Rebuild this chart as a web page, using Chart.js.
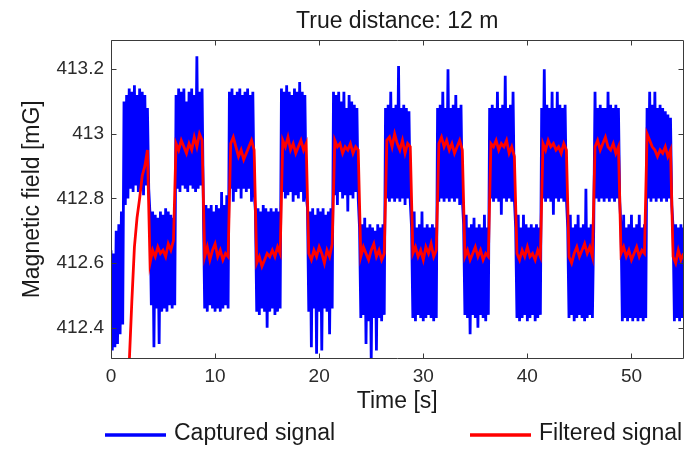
<!DOCTYPE html>
<html>
<head>
<meta charset="utf-8">
<title>True distance: 12 m</title>
<script src="https://cdn.jsdelivr.net/npm/chart.js@4.4.1/dist/chart.umd.min.js"></script>
<style>
  html, body { margin: 0; padding: 0; background: #fff; }
  #wrap { width: 700px; height: 449px; }
</style>
</head>
<body>
<div id="wrap"><canvas id="fieldChart" width="700" height="449"></canvas></div>
<script>
// Magnetometer trace: raw capture (blue) and low-pass output (red)

// --- data ---

// raw samples, one every 0.125 s from t = 0 (one row per high/low half-cycle)
const capturedStep = 0.125;
const captured = [
  412.64, 412.33, 412.63, 412.34, 412.70, 412.35, 412.72, 412.38, 412.76, 412.41,
  413.10, 412.78, 413.12, 412.80, 413.14, 412.83, 413.13, 412.82, 413.15, 412.84, 413.12, 412.82, 413.14, 412.83, 413.13, 412.81, 413.12, 412.84, 413.08, 412.83,
  412.75, 412.47, 412.76, 412.34, 412.75, 412.46, 412.74, 412.35, 412.76, 412.45, 412.75, 412.46, 412.77, 412.45, 412.76, 412.47, 412.75, 412.46, 412.74, 412.47,
  413.12, 412.83, 413.14, 412.82, 413.13, 412.84, 413.14, 412.83, 413.10, 412.82, 413.13, 412.84, 413.14, 412.83, 413.12, 412.82, 413.24, 412.83, 413.13, 412.84, 413.14,
  412.77, 412.46, 412.78, 412.45, 412.77, 412.47, 412.78, 412.46, 412.76, 412.45, 412.78, 412.46, 412.77, 412.45, 412.82, 412.46, 412.78, 412.47, 412.81, 412.46,
  413.13, 412.83, 413.14, 412.79, 413.12, 412.82, 413.13, 412.83, 413.14, 412.80, 413.12, 412.83, 413.13, 412.82, 413.14, 412.83, 413.12, 412.79, 413.13, 412.82,
  412.76, 412.45, 412.77, 412.44, 412.76, 412.46, 412.78, 412.45, 412.77, 412.40, 412.76, 412.45, 412.77, 412.46, 412.76, 412.44, 412.77, 412.45, 412.76, 412.46,
  413.14, 412.82, 413.13, 412.80, 413.15, 412.81, 413.13, 412.82, 413.12, 412.79, 413.14, 412.81, 413.13, 412.80, 413.16, 412.82, 413.13, 412.79, 413.12, 412.81,
  412.77, 412.45, 412.76, 412.34, 412.77, 412.46, 412.75, 412.32, 412.77, 412.45, 412.76, 412.33, 412.77, 412.46, 412.75, 412.45, 412.76, 412.38, 412.77, 412.46,
  413.13, 412.81, 413.12, 412.78, 413.13, 412.82, 413.10, 412.80, 413.13, 412.81, 413.08, 412.76, 413.12, 412.81, 413.10, 412.80, 413.09, 412.82, 413.08, 412.80,
  412.71, 412.43, 412.72, 412.44, 412.74, 412.35, 412.71, 412.42, 412.72, 412.30, 412.71, 412.43, 412.70, 412.33, 412.72, 412.43, 412.71, 412.42, 412.72, 412.44,
  413.08, 412.80, 413.09, 412.79, 413.13, 412.80, 413.08, 412.79, 413.09, 412.80, 413.21, 412.79, 413.08, 412.80, 413.09, 412.78, 413.08, 412.80, 413.07, 412.79,
  412.71, 412.43, 412.76, 412.42, 412.71, 412.44, 412.72, 412.43, 412.76, 412.42, 412.71, 412.43, 412.72, 412.44, 412.71, 412.43, 412.72, 412.42, 412.71, 412.43,
  413.08, 412.79, 413.09, 412.80, 413.13, 412.79, 413.08, 412.80, 413.20, 412.79, 413.08, 412.80, 413.09, 412.79, 413.12, 412.80, 413.08, 412.78, 413.09, 412.80,
  412.72, 412.44, 412.75, 412.43, 412.71, 412.38, 412.72, 412.44, 412.74, 412.43, 412.71, 412.40, 412.72, 412.44, 412.71, 412.43, 412.75, 412.42, 412.71, 412.44,
  413.08, 412.80, 413.09, 412.79, 413.08, 412.80, 413.13, 412.79, 413.08, 412.75, 413.09, 412.80, 413.18, 412.79, 413.08, 412.80, 413.09, 412.79, 413.13, 412.80,
  412.71, 412.43, 412.75, 412.42, 412.71, 412.43, 412.75, 412.44, 412.72, 412.42, 412.71, 412.43, 412.72, 412.44, 412.71, 412.42, 412.72, 412.43, 412.71, 412.44,
  413.08, 412.80, 413.20, 412.79, 413.09, 412.80, 413.08, 412.79, 413.13, 412.75, 413.08, 412.80, 413.13, 412.79, 413.09, 412.80, 413.08, 412.79, 413.09, 412.80,
  412.71, 412.43, 412.75, 412.44, 412.71, 412.42, 412.72, 412.43, 412.75, 412.44, 412.71, 412.43, 412.72, 412.42, 412.83, 412.43, 412.71, 412.44, 412.72, 412.43, 412.71,
  413.13, 412.80, 413.08, 412.79, 413.09, 412.80, 413.08, 412.79, 413.08, 412.80, 413.13, 412.79, 413.09, 412.80, 413.08, 412.79, 413.09, 412.80, 413.08, 412.79,
  412.71, 412.42, 412.75, 412.43, 412.71, 412.42, 412.72, 412.43, 412.75, 412.42, 412.71, 412.43, 412.72, 412.42, 412.75, 412.43, 412.71, 412.42, 412.72, 412.43,
  413.08, 412.80, 413.13, 412.79, 413.09, 412.80, 413.13, 412.79, 413.08, 412.80, 413.09, 412.79, 413.08, 412.80, 413.07, 412.79, 413.06, 412.80, 413.05, 412.78,
  412.71, 412.42, 412.72, 412.43, 412.71, 412.42, 412.72, 412.43, 412.71
];

// filter output, one value every 0.25 s once it starts at t = 1.75 s
const filteredStart = 1.75;
const filteredStep = 0.25;
const filtered = [
  412.29, 412.48, 412.65, 412.74, 412.80, 412.87, 412.90, 412.95,
  412.60, 412.64, 412.62, 412.65, 412.63, 412.64, 412.62, 412.66, 412.64, 412.67,
  412.97, 412.95, 412.98, 412.96, 412.94, 412.97, 412.95, 412.99, 412.96, 413.00, 412.98,
  412.62, 412.65, 412.61, 412.64, 412.66, 412.62, 412.64, 412.61, 412.63, 412.62,
  412.97, 412.99, 412.96, 412.93, 412.95, 412.92, 412.94, 412.96, 412.98, 412.95,
  412.60, 412.62, 412.59, 412.61, 412.63, 412.62, 412.64, 412.62, 412.65, 412.63,
  412.98, 412.96, 412.99, 412.95, 412.97, 412.94, 412.96, 412.98, 412.95, 412.97,
  412.63, 412.61, 412.64, 412.62, 412.65, 412.63, 412.60, 412.64, 412.62, 412.66,
  412.98, 412.96, 412.97, 412.94, 412.96, 412.95, 412.97, 412.94, 412.96, 412.95,
  412.62, 412.65, 412.63, 412.61, 412.64, 412.66, 412.62, 412.64, 412.61, 412.63,
  412.98, 412.99, 412.96, 413.00, 412.97, 412.95, 412.98, 412.94, 412.97, 412.96,
  412.63, 412.65, 412.62, 412.64, 412.61, 412.65, 412.63, 412.66, 412.62, 412.64,
  412.97, 412.99, 412.96, 412.98, 412.95, 412.97, 412.94, 412.96, 412.98, 412.95,
  412.62, 412.64, 412.61, 412.63, 412.65, 412.62, 412.64, 412.61, 412.63, 412.62,
  412.97, 412.96, 412.98, 412.95, 412.97, 412.96, 412.98, 412.94, 412.96, 412.93,
  412.63, 412.61, 412.64, 412.62, 412.65, 412.62, 412.63, 412.61, 412.64, 412.62,
  412.97, 412.95, 412.98, 412.96, 412.97, 412.95, 412.96, 412.94, 412.97, 412.95,
  412.62, 412.60, 412.63, 412.65, 412.62, 412.64, 412.66, 412.63, 412.65, 412.62,
  412.96, 412.98, 412.95, 412.97, 412.99, 412.96, 412.95, 412.97, 412.94, 412.96,
  412.63, 412.65, 412.62, 412.64, 412.61, 412.63, 412.65, 412.62, 412.64, 412.63,
  413.00, 412.98, 412.96, 412.95, 412.93, 412.95, 412.94, 412.96, 412.93, 412.95,
  412.62, 412.60, 412.64, 412.61, 412.63
];

const xTicks = [0, 10, 20, 30, 40, 50];
const yTicks = [412.4, 412.6, 412.8, 413, 413.2];

// --- styling ---

const FONT = "'Liberation Sans', Arial, Helvetica, sans-serif";
const TEXT = '#1a1a1a';
const FRAME = '#3a3a3a';
const TICK_LEN = 5;

Chart.defaults.font.family = FONT;
Chart.defaults.color = TEXT;

// MATLAB-style box: full frame with inward ticks on all four sides
const axesFrame = {
  id: 'axesFrame',
  afterDatasetsDraw(chart) {
    const { ctx, chartArea: a, scales: { x, y } } = chart;
    const L = Math.round(a.left) + 0.5;
    const R = Math.round(a.right) - 0.5;
    const T = Math.round(a.top) + 0.5;
    const B = Math.round(a.bottom) - 0.5;
    ctx.save();
    ctx.strokeStyle = FRAME;
    ctx.lineWidth = 1;
    ctx.beginPath();
    ctx.rect(L, T, R - L, B - T);
    xTicks.forEach(v => {
      const px = Math.round(x.getPixelForValue(v)) + 0.5;
      ctx.moveTo(px, B); ctx.lineTo(px, B - TICK_LEN);
      ctx.moveTo(px, T); ctx.lineTo(px, T + TICK_LEN);
    });
    yTicks.forEach(v => {
      const py = Math.round(y.getPixelForValue(v)) + 0.5;
      ctx.moveTo(L, py); ctx.lineTo(L + TICK_LEN, py);
      ctx.moveTo(R, py); ctx.lineTo(R - TICK_LEN, py);
    });
    ctx.stroke();
    ctx.restore();
  }
};

// legend split across the bottom: one entry under each half of the plot
const splitLegend = {
  id: 'splitLegend',
  afterDraw(chart) {
    const { ctx, chartArea: a } = chart;
    const cy = a.bottom + 75.5;
    const starts = [a.left - 6, a.left + 359];
    ctx.save();
    ctx.font = '23px ' + FONT;
    ctx.textBaseline = 'middle';
    ctx.textAlign = 'left';
    chart.data.datasets.forEach((ds, i) => {
      const x0 = starts[i];
      ctx.strokeStyle = ds.borderColor;
      ctx.lineWidth = 3.5;
      ctx.beginPath();
      ctx.moveTo(x0, cy + 1);
      ctx.lineTo(x0 + 61, cy + 1);
      ctx.stroke();
      ctx.fillStyle = TEXT;
      ctx.fillText(ds.label, x0 + 69, cy);
    });
    ctx.restore();
  }
};

const capturedPoints = captured.map((v, i) => ({ x: i * capturedStep, y: v }));
const filteredPoints = filtered.map((v, i) => ({ x: filteredStart + i * filteredStep, y: v }));

new Chart(document.getElementById('fieldChart'), {
  type: 'line',
  data: {
    datasets: [
      {
        label: 'Captured signal',
        data: capturedPoints,
        borderColor: '#0000ff',
        borderWidth: 2.8,
        borderJoinStyle: 'bevel',
        pointRadius: 0,
        tension: 0,
        clip: 0,
        order: 2
      },
      {
        label: 'Filtered signal',
        data: filteredPoints,
        borderColor: '#ff0000',
        borderWidth: 2.8,
        pointRadius: 0,
        tension: 0,
        clip: 0,
        order: 1
      }
    ]
  },
  options: {
    responsive: false,
    animation: false,
    layout: { padding: { left: 0, right: 16.5, top: 0, bottom: 33.5 } },
    plugins: {
      legend: { display: false },
      tooltip: { enabled: false },
      title: {
        display: true,
        fullSize: false,
        text: 'True distance: 12 m',
        color: TEXT,
        font: { size: 23, weight: 'normal' },
        padding: { top: 7.5, bottom: 5 }
      }
    },
    scales: {
      x: {
        type: 'linear',
        min: 0,
        max: 55,
        afterBuildTicks: s => { s.ticks = xTicks.map(v => ({ value: v })); },
        afterFit: s => { s.height = 57; },
        grid: { display: false, drawTicks: false },
        border: { display: false },
        ticks: { color: '#2b2b2b', font: { size: 19 }, padding: 7, maxRotation: 0 },
        title: {
          display: true,
          text: 'Time [s]',
          color: TEXT,
          font: { size: 23 },
          padding: { top: 0, bottom: 0 }
        }
      },
      y: {
        type: 'linear',
        min: 412.305,
        max: 413.29,
        afterBuildTicks: s => { s.ticks = yTicks.map(v => ({ value: v })); },
        afterFit: s => { s.width = 111; },
        grid: { display: false, drawTicks: false },
        border: { display: false },
        ticks: {
          color: '#2b2b2b',
          font: { size: 19 },
          padding: 7,
          callback: v => v.toFixed(1).replace(/\.0$/, '')
        },
        title: {
          display: true,
          text: 'Magnetic field [mG]',
          color: TEXT,
          font: { size: 23 },
          padding: { top: 19, bottom: 0 }
        }
      }
    }
  },
  plugins: [axesFrame, splitLegend]
});
</script>
</body>
</html>
